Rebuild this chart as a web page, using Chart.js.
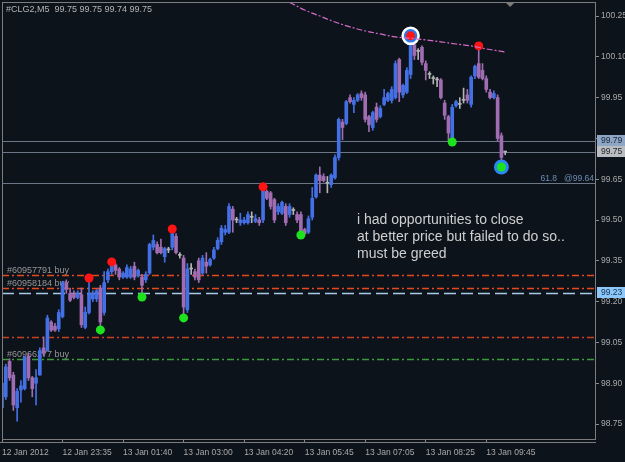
<!DOCTYPE html>
<html><head><meta charset="utf-8">
<script src="https://cdn.jsdelivr.net/npm/chart.js@4.4.1/dist/chart.umd.min.js"></script>
<style>html,body{margin:0;padding:0;background:#0d131b;overflow:hidden}canvas{display:block}</style>
</head><body>
<canvas id="c" width="625" height="462"></canvas>
<script>
// ---------------- data ----------------
const symbolTitle = '#CLG2,M5  99.75 99.75 99.74 99.75';
const slotCount = 158;                       // visible bar slots (incl. empty shift area)
const categories = Array.from({length: slotCount}, (_, i) => String(i));

const open  = [98.81,98.85,98.98,98.93,98.81,98.875,98.88,99.00,98.92,98.90,98.93,99.03,99.02,99.125,99.11,99.10,99.145,99.27,99.23,99.23,
99.215,99.225,99.105,99.16,99.21,99.21,99.25,99.16,99.28,99.31,99.335,99.32,99.29,99.29,99.29,99.33,99.295,99.29,99.28,99.305,
99.40,99.41,99.40,99.365,99.39,99.40,99.44,99.37,99.36,99.17,99.32,99.31,99.35,99.305,99.345,99.335,99.36,99.395,99.42,99.455,
99.455,99.54,99.50,99.49,99.49,99.49,99.51,99.495,99.50,99.50,99.605,99.60,99.575,99.53,99.525,99.55,99.52,99.535,99.52,99.52,
99.465,99.455,99.51,99.585,99.665,99.66,99.635,99.63,99.655,99.73,99.86,99.855,99.95,99.925,99.94,99.965,99.96,99.88,99.84,99.915,
99.88,99.925,99.94,99.94,99.95,100.09,99.96,99.97,100.035,100.145,100.12,100.135,100.075,100.035,100.02,100.015,100.015,99.93,99.88,99.80,
99.92,99.925,99.94,99.96,99.925,100.03,100.075,100.05,100.02,99.97,99.95,99.95,99.81,99.75];
const high  = [98.91,98.97,98.99,98.94,98.88,98.91,99.00,99.01,98.925,98.95,99.03,99.07,99.15,99.13,99.12,99.17,99.275,99.28,99.25,99.24,
99.24,99.25,99.18,99.29,99.24,99.245,99.26,99.31,99.32,99.345,99.34,99.325,99.31,99.335,99.33,99.345,99.32,99.30,99.31,99.415,
99.445,99.42,99.43,99.40,99.40,99.47,99.45,99.38,99.37,99.34,99.34,99.32,99.36,99.37,99.38,99.36,99.40,99.435,99.48,99.48,
99.56,99.55,99.51,99.525,99.51,99.53,99.53,99.52,99.51,99.62,99.61,99.605,99.58,99.56,99.57,99.56,99.56,99.545,99.53,99.53,
99.47,99.515,99.62,99.67,99.695,99.67,99.66,99.67,99.74,99.875,99.87,99.94,99.96,99.95,99.965,99.975,99.97,99.885,99.90,99.93,
99.92,99.98,99.97,99.99,100.085,100.095,100.00,100.06,100.18,100.17,100.13,100.14,100.085,100.045,100.03,100.025,100.02,99.94,99.885,99.925,
99.94,99.95,99.985,99.98,100.03,100.07,100.14,100.075,100.03,99.98,99.975,99.96,99.82,99.75];
const low   = [98.79,98.84,98.91,98.80,98.76,98.83,98.875,98.91,98.85,98.82,98.93,99.00,99.02,99.09,99.09,99.09,99.14,99.23,99.20,99.21,
99.21,99.105,99.10,99.155,99.20,99.20,99.10,99.15,99.27,99.30,99.30,99.28,99.285,99.285,99.285,99.28,99.29,99.215,99.27,99.30,
99.39,99.375,99.375,99.345,99.38,99.39,99.375,99.36,99.14,99.16,99.30,99.28,99.27,99.30,99.305,99.33,99.355,99.39,99.41,99.445,
99.45,99.455,99.49,99.48,99.485,99.485,99.49,99.49,99.48,99.49,99.575,99.54,99.49,99.52,99.52,99.48,99.51,99.52,99.49,99.445,
99.445,99.45,99.50,99.58,99.60,99.64,99.60,99.62,99.65,99.72,99.795,99.85,99.93,99.895,99.935,99.94,99.86,99.825,99.83,99.86,
99.875,99.92,99.935,99.93,99.945,99.935,99.95,99.965,100.02,100.09,100.09,100.07,100.015,100.02,100.00,99.99,99.945,99.87,99.79,99.79,
99.915,99.91,99.93,99.93,99.915,100.02,100.02,100.015,99.97,99.945,99.945,99.79,99.70,99.74];
const close = [98.90,98.96,98.92,98.82,98.87,98.89,98.995,98.92,98.88,98.92,99.02,99.01,99.14,99.095,99.095,99.16,99.27,99.245,99.205,99.215,
99.23,99.115,99.16,99.23,99.23,99.24,99.125,99.27,99.31,99.33,99.315,99.29,99.305,99.325,99.32,99.29,99.315,99.26,99.30,99.41,
99.425,99.38,99.38,99.395,99.39,99.45,99.38,99.37,99.18,99.32,99.32,99.29,99.28,99.36,99.33,99.355,99.39,99.425,99.47,99.465,
99.55,99.50,99.50,99.50,99.50,99.52,99.51,99.505,99.49,99.615,99.58,99.55,99.50,99.55,99.565,99.49,99.55,99.535,99.50,99.45,
99.45,99.505,99.58,99.665,99.645,99.645,99.635,99.665,99.73,99.87,99.84,99.935,99.935,99.94,99.96,99.95,99.87,99.85,99.895,99.87,
99.91,99.95,99.965,99.98,100.075,99.97,99.995,100.05,100.16,100.105,100.12,100.08,100.05,100.035,100.02,100.015,99.95,99.885,99.82,99.915,
99.935,99.925,99.94,99.94,100.025,100.065,100.025,100.02,99.98,99.95,99.965,99.80,99.73,99.75];

const xTickBars   = [0, 16, 32, 48, 64, 80, 96, 112, 128];
const xTickLabels = ['12 Jan 2012','12 Jan 23:35','13 Jan 01:40','13 Jan 03:00','13 Jan 04:20','13 Jan 05:45','13 Jan 07:05','13 Jan 08:25','13 Jan 09:45'];
const yTickValues = [100.25, 100.10, 99.95, 99.80, 99.65, 99.50, 99.35, 99.20, 99.05, 98.90, 98.75];

const highMarkIdx = [23, 29, 45, 69, 108, 126];
const highMarkVal = [99.287, 99.346, 99.467, 99.622, 100.177, 100.14];
const lowMarkIdx  = [26, 37, 48, 79, 119, 132];
const lowMarkVal  = [99.096, 99.217, 99.14, 99.445, 99.787, 99.695];
const bigHighIdx = [108], bigHighVal = [100.177];
const bigLowIdx  = [132], bigLowVal  = [99.695];

const arcIdx = [76, 80, 84, 88, 92, 96, 100, 104, 108, 112, 116, 120, 124, 128, 133];
const arcVal = [100.30, 100.272, 100.25, 100.228, 100.21, 100.195, 100.184, 100.173, 100.168, 100.162, 100.155, 100.147, 100.14, 100.129, 100.118];

const grayLevels  = [99.79, 99.75, 99.636];
const fiboLabel   = '61.8   @99.64';
const orderLevels = [99.298, 99.25, 99.07, 98.989];
const orderLabels = ['#60957791 buy', '#60958184 buy', '', '#60966277 buy'];
const bidLevel    = 99.23;
const priceBoxes  = [99.79, 99.75, 99.23];
const noteLines   = ['i had opportunities to close', 'at better price but failed to do so..', 'must be greed'];

// ---------------- chart ----------------
const BULL = '#4470e6', BEAR = '#a06cb2', DOJI = '#b4b4b4';
const candleColor = close.map((c, i) => c > open[i] ? BULL : (c < open[i] ? BEAR : DOJI));
function sparse(idx, val) { const a = new Array(slotCount).fill(null); idx.forEach((k, j) => a[k] = val[j]); return a; }
const FONT = 'Liberation Sans';

const overlay = {
  id: 'overlay',
  beforeDatasetsDraw(chart) {
    const {ctx, chartArea: a, scales: {x, y}} = chart;
    ctx.save();
    ctx.beginPath(); ctx.rect(a.left, a.top, a.width, a.height); ctx.clip();
    ctx.strokeStyle = '#6b7786'; ctx.lineWidth = 1;
    grayLevels.forEach(v => { const py = Math.round(y.getPixelForValue(v)) + 0.5; ctx.beginPath(); ctx.moveTo(a.left, py); ctx.lineTo(a.right, py); ctx.stroke(); });
    const ocol = ['#e64a1a', '#e64a1a', '#c8401c', '#3c9a3c'];
    ctx.lineWidth = 1.3; ctx.setLineDash([7, 3, 2, 3]);
    orderLevels.forEach((v, i) => { const py = Math.round(y.getPixelForValue(v)) + 0.5; ctx.strokeStyle = ocol[i]; ctx.beginPath(); ctx.moveTo(a.left, py); ctx.lineTo(a.right, py); ctx.stroke(); });
    ctx.setLineDash([12, 5]); ctx.lineWidth = 1.6; ctx.strokeStyle = '#a9c9e6';
    { const py = Math.round(y.getPixelForValue(bidLevel)) + 0.5; ctx.beginPath(); ctx.moveTo(a.left, py); ctx.lineTo(a.right, py); ctx.stroke(); }
    ctx.setLineDash([]);
    ctx.font = '9px ' + FONT; ctx.fillStyle = '#969696'; ctx.textBaseline = 'alphabetic'; ctx.textAlign = 'left';
    orderLevels.forEach((v, i) => { if (orderLabels[i]) ctx.fillText(orderLabels[i], a.left + 5, y.getPixelForValue(v) - 2); });
    ctx.restore();
  },
  afterDraw(chart) {
    const {ctx, chartArea: a, scales: {x, y}} = chart;
    ctx.save();
    ctx.strokeStyle = '#7c7c7c'; ctx.lineWidth = 1;
    ctx.strokeRect(a.left + 0.5, a.top + 0.5, a.width - 1, a.height);
    ctx.beginPath(); ctx.moveTo(0, a.bottom + 3.5); ctx.lineTo(a.right, a.bottom + 3.5); ctx.stroke();
    const tx = x.getPixelForValue(134.3);
    ctx.fillStyle = '#7c7c7c'; ctx.beginPath(); ctx.moveTo(tx - 4, a.top + 1); ctx.lineTo(tx + 4, a.top + 1); ctx.lineTo(tx, a.top + 5); ctx.closePath(); ctx.fill();
    ctx.font = '9px ' + FONT; ctx.fillStyle = '#b4b4b4'; ctx.textAlign = 'left'; ctx.textBaseline = 'middle';
    ctx.fillText(symbolTitle, a.left + 4, a.top + 8);
    ctx.font = '8.5px ' + FONT; ctx.fillStyle = '#6d8db5'; ctx.textAlign = 'right'; ctx.textBaseline = 'alphabetic';
    ctx.fillText(fiboLabel, a.right - 2, y.getPixelForValue(grayLevels[2]) - 2);
    ctx.font = '14px ' + FONT; ctx.fillStyle = '#cfcfcf'; ctx.textAlign = 'left';
    noteLines.forEach((t, i) => ctx.fillText(t, 357, 224 + i * 17));
    const bg = ['#8ea6c6', '#b9bcc0', '#8ec8fa'], fg = ['#1a2534', '#22262a', '#10304e'];
    ctx.font = '8.5px ' + FONT; ctx.textBaseline = 'middle'; ctx.textAlign = 'left';
    priceBoxes.forEach((v, i) => {
      const py = Math.round(y.getPixelForValue(v));
      ctx.fillStyle = bg[i]; ctx.fillRect(a.right + 1, py - 6, 30, 11);
      ctx.fillStyle = fg[i]; ctx.fillText(v.toFixed(2), a.right + 5, py);
    });
    ctx.restore();
  }
};

new Chart(document.getElementById('c'), {
  type: 'bar',
  data: {
    labels: categories,
    datasets: [
      {type: 'line', data: sparse(arcIdx, arcVal), borderColor: '#d66ac8', borderWidth: 1.2, borderDash: [6, 2, 2, 2], pointRadius: 0, spanGaps: true, tension: 0.35, order: 0},
      {type: 'line', data: sparse(highMarkIdx, highMarkVal), showLine: false, pointRadius: 4.5, pointBackgroundColor: '#ff1414', pointBorderWidth: 0, order: 1},
      {type: 'line', data: sparse(lowMarkIdx, lowMarkVal), showLine: false, pointRadius: 4.5, pointBackgroundColor: '#1ee21e', pointBorderWidth: 0, order: 1},
      {type: 'line', data: sparse(bigHighIdx, bigHighVal), showLine: false, pointRadius: 8, pointBackgroundColor: '#2f78e6', pointBorderColor: '#ffffff', pointBorderWidth: 2.5, order: 2},
      {type: 'line', data: sparse(bigLowIdx, bigLowVal), showLine: false, pointRadius: 7.5, pointBackgroundColor: '#2a86f0', pointBorderWidth: 0, order: 2},
      {type: 'bar', data: open.map((o, i) => [o, close[i]]), backgroundColor: candleColor, barThickness: 3, minBarLength: 1, grouped: false, clip: 0, order: 5},
      {type: 'bar', data: low.map((l, i) => [l, high[i]]), backgroundColor: candleColor, barThickness: 1, grouped: false, clip: 0, order: 6}
    ]
  },
  options: {
    responsive: false, animation: false, devicePixelRatio: 1,
    layout: {autoPadding: false, padding: {left: 2, top: 2, right: 0, bottom: 0}},
    plugins: {legend: {display: false}, tooltip: {enabled: false}},
    scales: {
      x: {
        type: 'category', offset: false,
        grid: {drawOnChartArea: false, drawTicks: true, tickLength: 4, offset: false,
               tickColor: c => xTickBars.includes(c.index) ? '#8a8a8a' : 'rgba(0,0,0,0)'},
        border: {display: false},
        ticks: {autoSkip: false, maxRotation: 0, minRotation: 0, align: 'start', padding: 5, color: '#a9a9a9',
                font: {family: FONT, size: 8.5},
                callback: (v, i) => { const k = xTickBars.indexOf(i); return k >= 0 ? xTickLabels[k] : ''; }},
        afterFit: s => { s.height = 23; s.paddingLeft = 0; s.paddingRight = 0; s.paddingTop = 0; s.paddingBottom = 0; }
      },
      y: {
        position: 'right', min: 98.6949, max: 100.3015,
        afterBuildTicks: s => { s.ticks = yTickValues.map(v => ({value: v})); },
        grid: {drawOnChartArea: false, drawTicks: true, tickLength: 3, tickColor: '#8a8a8a'},
        border: {display: false},
        ticks: {autoSkip: false, padding: 2, color: '#a9a9a9', font: {family: FONT, size: 8.5}, callback: v => Number(v).toFixed(2)},
        afterFit: s => { s.width = 29; s.paddingLeft = 0; s.paddingRight = 0; s.paddingTop = 0; s.paddingBottom = 0; }
      }
    }
  },
  plugins: [overlay]
});
</script>
</body></html>
